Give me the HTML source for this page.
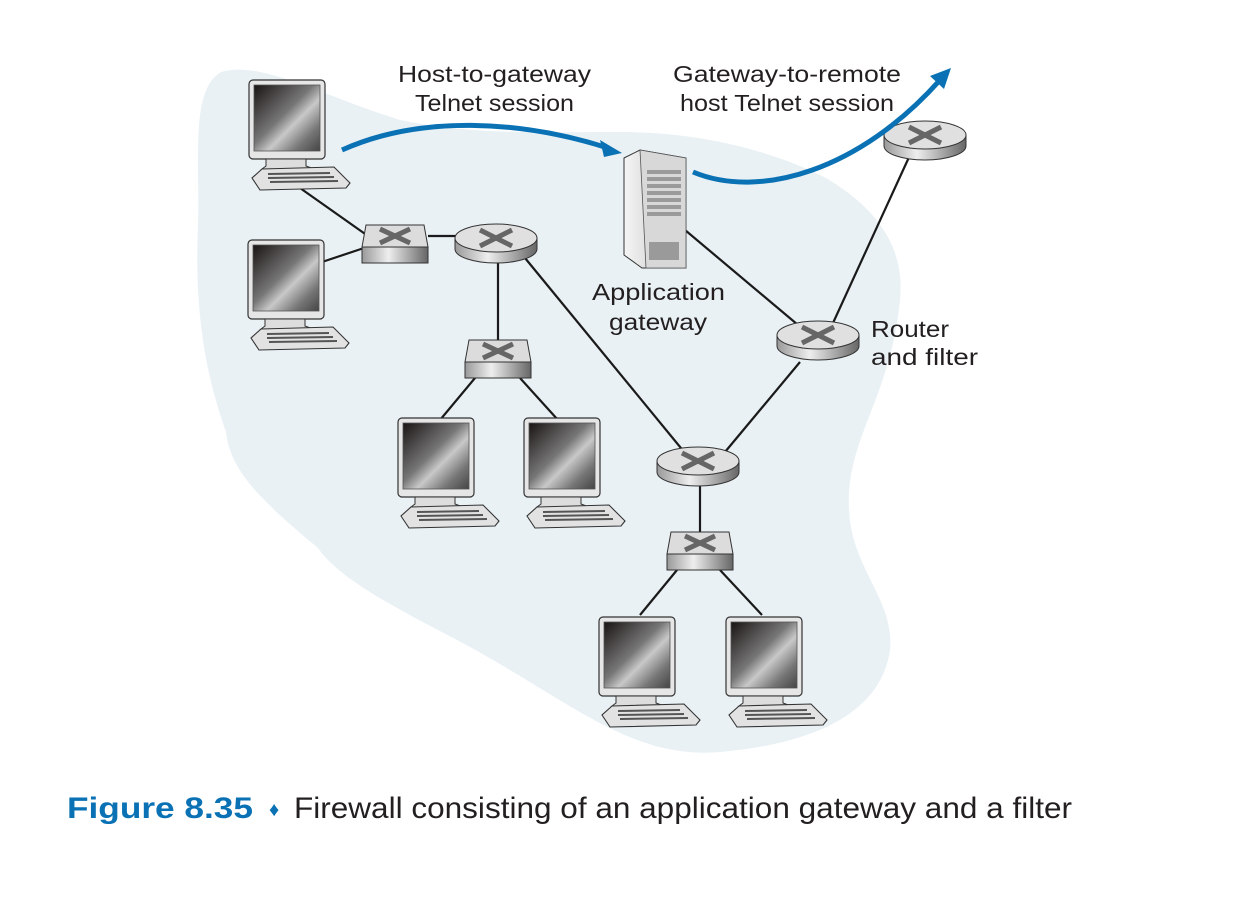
<!DOCTYPE html>
<html><head><style>
html,body{margin:0;padding:0;background:#fff;}
svg{display:block;}
text{font-family:"Liberation Sans",sans-serif;}
</style></head><body>
<svg width="1243" height="905" viewBox="0 0 1243 905" xmlns="http://www.w3.org/2000/svg">
<defs>
<linearGradient id="scr" x1="0" y1="0" x2="1" y2="1">
<stop offset="0" stop-color="#1a1414"/><stop offset="0.45" stop-color="#777"/><stop offset="0.6" stop-color="#c8c8c8"/><stop offset="0.8" stop-color="#777"/><stop offset="1" stop-color="#444"/></linearGradient>
<linearGradient id="side" x1="0" y1="0" x2="1" y2="0">
<stop offset="0" stop-color="#999"/><stop offset="0.4" stop-color="#eee"/><stop offset="1" stop-color="#666"/></linearGradient>
<linearGradient id="srv" x1="0" y1="0" x2="1" y2="0">
<stop offset="0" stop-color="#f5f5f5"/><stop offset="1" stop-color="#bbb"/></linearGradient>
<g id="pc">
<rect x="1" y="0" width="76" height="79" rx="4" fill="#e6e6e6" stroke="#333" stroke-width="1.2"/>
<rect x="6" y="5" width="66" height="66" fill="url(#scr)" stroke="#555" stroke-width="0.8"/>
<path d="M18 79 L58 79 L58 86 L66 89 L14 89 L18 86 Z" fill="#ddd" stroke="#333" stroke-width="1"/>
<path d="M14 89 L86 87 L102 103 L98 108 L12 110 L4 98 Z" fill="#e2e2e2" stroke="#333" stroke-width="1.1"/>
<g stroke="#555" stroke-width="2"><line x1="20" y1="94" x2="82" y2="93"/><line x1="20" y1="98" x2="86" y2="97"/><line x1="22" y1="102" x2="90" y2="101"/></g>
</g>
<g id="sw">
<path d="M4 0 L62 0 L66 22 L0 22 Z" fill="#dcdcdc" stroke="#333" stroke-width="1"/>
<rect x="0" y="22" width="66" height="16" fill="url(#side)" stroke="#333" stroke-width="1"/>
<g stroke="#666" stroke-width="5"><line x1="18" y1="4" x2="48" y2="18"/><line x1="48" y1="4" x2="18" y2="18"/></g>
</g>
<g id="rt">
<path d="M-41 0 L-41 11 A41 14 0 0 0 41 11 L41 0 Z" fill="url(#side)" stroke="#333" stroke-width="1"/>
<ellipse cx="0" cy="0" rx="41" ry="14" fill="#e0e0e0" stroke="#333" stroke-width="1"/>
<g stroke="#666" stroke-width="5"><line x1="-16" y1="-8" x2="16" y2="8"/><line x1="16" y1="-8" x2="-16" y2="8"/></g>
</g>
</defs>
<path d="M221 72 C260 60 320 95 400 120 C470 135 540 132 620 132 C700 132 770 150 826 178 C880 210 905 250 900 300 C890 400 845 440 849 510 C852 570 895 600 890 650 C880 720 800 745 720 752 C630 760 570 700 457 640 C400 610 340 580 318 548 C260 500 230 470 226 432 C200 360 195 290 198 225 C200 160 190 90 221 72 Z" fill="#e9f1f5"/>
<g stroke="#1a1a1a" stroke-width="2.2" fill="none">
<line x1="300" y1="188" x2="368" y2="236"/><line x1="322" y1="262" x2="364" y2="248"/>
<line x1="428" y1="236" x2="456" y2="236"/><line x1="498" y1="256" x2="498" y2="342"/>
<line x1="525" y1="258" x2="685" y2="453"/><line x1="475" y1="378" x2="440" y2="420"/>
<line x1="520" y1="378" x2="558" y2="420"/><line x1="685" y1="230" x2="804" y2="330"/>
<line x1="725" y1="452" x2="800" y2="362"/><line x1="833" y1="323" x2="910" y2="155"/>
<line x1="700" y1="480" x2="700" y2="532"/><line x1="677" y1="570" x2="640" y2="615"/>
<line x1="720" y1="570" x2="762" y2="615"/>
</g>
<use href="#pc" x="248" y="80"/><use href="#pc" x="247" y="240"/>
<use href="#pc" x="397" y="418"/><use href="#pc" x="523" y="418"/>
<use href="#pc" x="598" y="617"/><use href="#pc" x="725" y="617"/>
<use href="#sw" x="362" y="225"/><use href="#sw" x="465" y="340"/><use href="#sw" x="667" y="532"/>
<use href="#rt" x="496" y="238"/><use href="#rt" x="698" y="461"/><use href="#rt" x="818" y="335"/><use href="#rt" x="925" y="135"/>
<path d="M624 158 L640 150 L686 158 L686 268 L642 268 L624 255 Z" fill="url(#srv)" stroke="#333" stroke-width="1"/>
<path d="M640 150 L686 158 L686 268 L646 268 Z" fill="#d8d8d8" stroke="#555" stroke-width="0.8"/>
<g fill="#9a9a9a"><rect x="647" y="170" width="34" height="4"/><rect x="647" y="177" width="34" height="4"/><rect x="647" y="184" width="34" height="4"/><rect x="647" y="191" width="34" height="4"/><rect x="647" y="198" width="34" height="4"/><rect x="647" y="205" width="34" height="4"/><rect x="647" y="212" width="34" height="4"/><rect x="649" y="242" width="30" height="18"/></g>
<path d="M342 150 C420 115 520 120 608 148" stroke="#0a72b4" stroke-width="5" fill="none"/>
<path d="M622 153 L600 140 L604 157 Z" fill="#0a72b4"/>
<path d="M693 172 C760 200 860 170 940 80" stroke="#0a72b4" stroke-width="5" fill="none"/>
<path d="M951 68 L930 76 L944 89 Z" fill="#0a72b4"/>
<g font-size="23" fill="#231f20">
<text x="398" y="82" textLength="193" lengthAdjust="spacingAndGlyphs">Host-to-gateway</text>
<text x="415" y="111" textLength="159" lengthAdjust="spacingAndGlyphs">Telnet session</text>
<text x="673" y="82" textLength="228" lengthAdjust="spacingAndGlyphs">Gateway-to-remote</text>
<text x="680" y="111" textLength="214" lengthAdjust="spacingAndGlyphs">host Telnet session</text>
<text x="592" y="300" textLength="133" lengthAdjust="spacingAndGlyphs">Application</text>
<text x="609" y="330" textLength="98" lengthAdjust="spacingAndGlyphs">gateway</text>
<text x="871" y="337" textLength="78" lengthAdjust="spacingAndGlyphs">Router</text>
<text x="871" y="365" textLength="107" lengthAdjust="spacingAndGlyphs">and filter</text>
</g>
<text x="67" y="818" font-size="30" font-weight="bold" fill="#0a72b4" textLength="186" lengthAdjust="spacingAndGlyphs">Figure 8.35</text>
<text x="269" y="816" font-size="20" fill="#0a72b4">♦</text>
<text x="294" y="818" font-size="30" fill="#231f20" textLength="778" lengthAdjust="spacingAndGlyphs">Firewall consisting of an application gateway and a filter</text>
</svg>
</body></html>
